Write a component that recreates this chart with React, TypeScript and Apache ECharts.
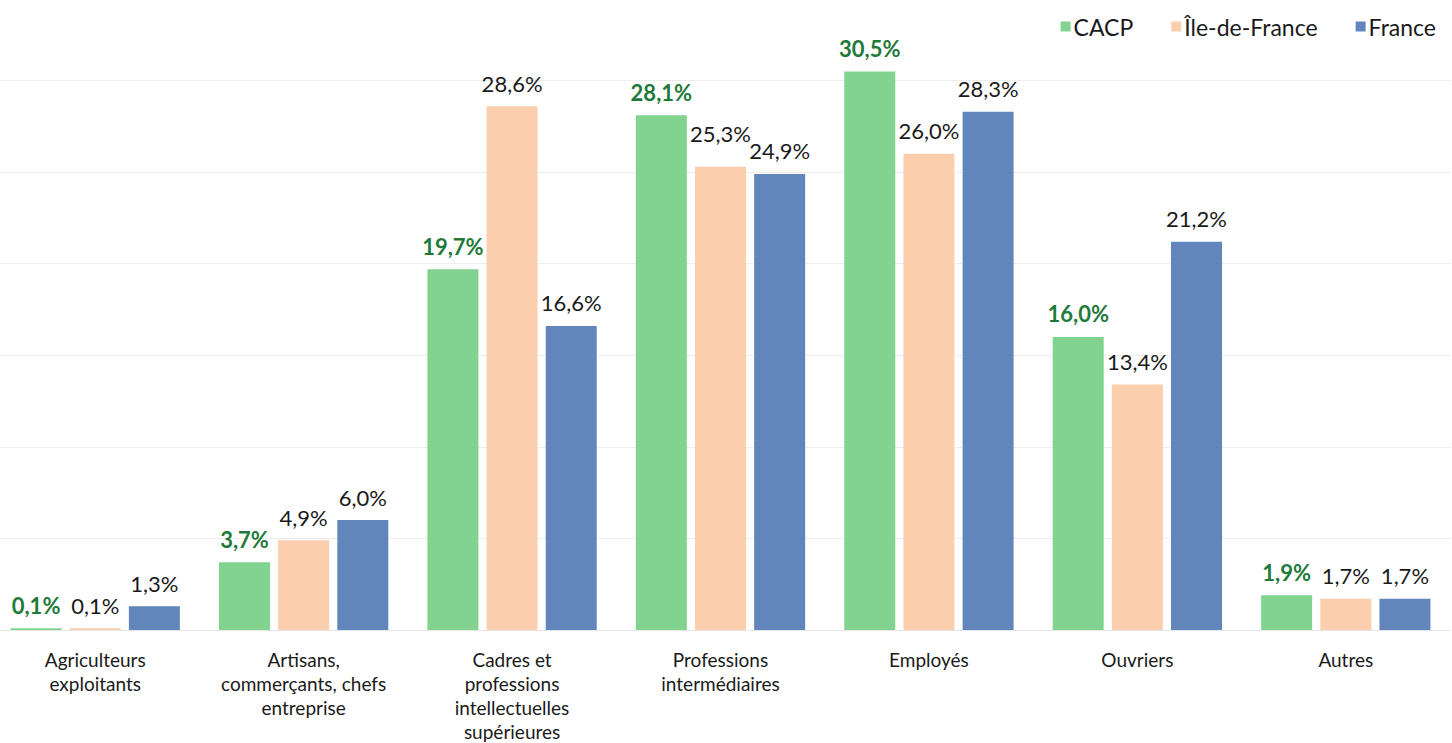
import React, { useEffect, useRef } from "react";
import * as echarts from "echarts";

const categories = [
  "Agriculteurs\nexploitants",
  "Artisans,\ncommerçants, chefs\nentreprise",
  "Cadres et\nprofessions\nintellectuelles\nsupérieures",
  "Professions\nintermédiaires",
  "Employés",
  "Ouvriers",
  "Autres",
];
const seriesNames = ["CACP", "Île-de-France", "France"];
const cacp = [0.1, 3.7, 19.7, 28.1, 30.5, 16.0, 1.9];
const idf = [0.1, 4.9, 28.6, 25.3, 26.0, 13.4, 1.7];
const france = [1.3, 6.0, 16.6, 24.9, 28.3, 21.2, 1.7];
const colors = ["#82d38f", "#fbcfae", "#6286bb"];

const FONT = "Lato, 'DejaVu Sans', sans-serif";
const fmt = (v: number) => v.toFixed(1).replace(".", ",") + "%";
const PAD = 30;

export default function App() {
  const ref = useRef<HTMLDivElement>(null);
  useEffect(() => {
    if (!ref.current) return;
    const chart = echarts.init(ref.current, undefined, { renderer: "svg" });
    const mk = (name: string, vals: number[], idx: number) => ({
      name,
      type: "bar",
      barWidth: 51,
      barGap: "16%",
      itemStyle: { color: colors[idx] },
      label: {
        show: true,
        position: "top",
        distance: 12,
        fontFamily: FONT,
        fontSize: 22,
        fontWeight: idx === 0 ? "bold" : "normal",
        color: idx === 0 ? "#1f7a3a" : "#1a1a1a",
        formatter: (p: any) => fmt(p.value),
      },
      data: vals.map((v, i) =>
        idx === 1 && i === 3
          ? { value: v, label: { offset: [0, -10] } }
          : v
      ),
    });
    chart.setOption({
      animation: false,
      backgroundColor: "#ffffff",
      legend: {
        right: 11,
        top: PAD + 10,
        itemWidth: 10,
        itemHeight: 10,
        itemGap: 38,
        icon: "rect",
        textStyle: { fontFamily: FONT, fontSize: 23, color: "#1a1a1a", padding: [0, 0, 0, -2] },
        data: seriesNames,
      },
      grid: { left: PAD - 9, right: 2, top: PAD - 11, bottom: 111, containLabel: false },
      xAxis: {
        type: "category",
        data: categories,
        axisTick: { show: false },
        axisLine: { show: true, lineStyle: { color: "#e6e6e6", width: 1 } },
        axisLabel: {
          interval: 0,
          margin: 17,
          fontFamily: FONT,
          fontSize: 19,
          lineHeight: 24,
          color: "#1a1a1a",
          verticalAlign: "top",
        },
      },
      yAxis: {
        type: "value",
        min: 0,
        max: 35,
        interval: 5,
        axisLabel: { show: false },
        axisLine: { show: false },
        axisTick: { show: false },
        splitLine: { lineStyle: { color: "#ededed", width: 1 } },
      },
      series: [mk(seriesNames[0], cacp, 0), mk(seriesNames[1], idf, 1), mk(seriesNames[2], france, 2)],
    });
    return () => chart.dispose();
  }, []);
  return (
    <div
      ref={ref}
      style={{
        position: "fixed",
        left: -PAD,
        top: -PAD,
        width: 1452 + PAD,
        height: 743 + PAD,
        background: "#fff",
      }}
    />
  );
}
